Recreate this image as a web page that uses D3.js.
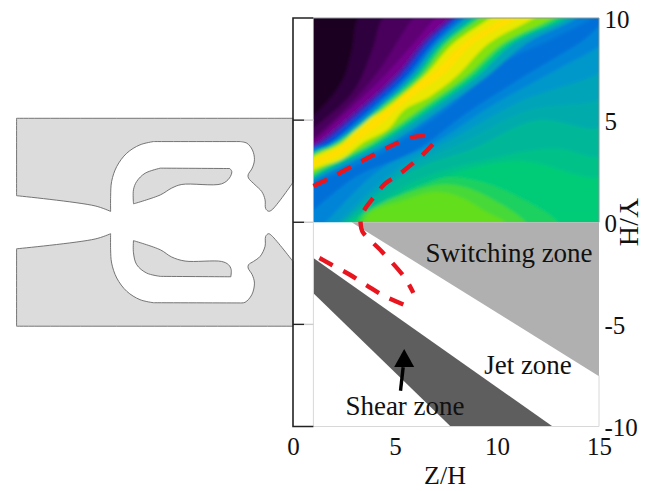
<!DOCTYPE html>
<html><head><meta charset="utf-8">
<script src="https://cdn.jsdelivr.net/npm/d3@7"></script>
<style>html,body{margin:0;padding:0;background:#fff}svg{display:block}text{font-family:"Liberation Serif",serif;fill:#111}</style>
</head><body><svg id="c" width="654" height="491"></svg>
<script>
const zTicks=[0,5,10,15], yTicks=[10,5,0,-5,-10], innerTicks=[5,0,-5];
// heat field read as iso-bands: [level, [[Z,Y],...]], painted lower-right to upper-left
const baseLevel=0.6;
const hills=[
 [.64,[[3.1,0],[3.6,.9],[5.5,1.55],[7.5,2.2],[9.5,1.9],[11.5,1.0],[13,0]]],
 [.70,[[3.3,0],[3.6,.6],[5,1.2],[7.2,1.85],[8.5,1.7],[10,1],[11.4,0]]],
 [.74,[[3.45,0],[3.8,.5],[5.5,1.1],[7,1.5],[8.3,1.2],[9.5,.5],[10.4,0]]]
];
const bands=[
 [.575,[[2.8,0],[6.5,1.9],[11,3.0],[15,2.2]]],
 [.55,[[2.7,0],[6.2,2.1],[9.66,3.1],[12.9,3.6],[15,3.2]]],
 [.52,[[2.5,0],[5.8,2.5],[8.8,3.6],[12,5],[15,4.6]]],
 [.50,[[2.4,0],[5.5,2.6],[8.4,3.95],[11.6,5.5],[15,6]]],
 [.47,[[2.2,0],[5.25,2.73],[8,4.2],[11.3,6],[15,7.3]]],
 [.43,[[1.6,0],[4.26,2.57],[6.9,3.87],[9.66,5.66],[12.9,7.46],[15,8.6]]],
 [.395,[[1,.6],[3.1,2.24],[6.06,3.55],[8.5,5.34],[11.3,7.13],[14.2,8.9],[15,9.6]]],
 [.42,[[1,1.9],[2.6,2.55],[4.3,3.35],[5.8,4.3],[7.9,5.8],[9.9,7.6],[12.55,8.9],[14.7,10]]],
 [.50,[[1,2.05],[4.75,3.87],[7.2,5.5],[9.5,7.13],[11.45,8.76],[13.9,10]]],
 [.60,[[1,2.2],[4.26,3.87],[6.7,5.5],[9,7.13],[10.8,8.76],[13.4,10]]],
 [.70,[[1,2.33],[3.95,3.87],[6.35,5.5],[8.65,7.13],[10.45,8.76],[12.95,10]]],
 [.78,[[1,2.43],[3.8,3.87],[6.15,5.5],[8.45,7.13],[10.25,8.76],[12.7,10]]],
 [.88,[[1,2.58],[2.4,3.1],[3.4,3.87],[4.65,4.55],[5.45,5.5],[6.7,6.15],[8,7.13],[9.6,8.76],[11.8,10]]],
 [.96,[[1,2.72],[2.2,3.25],[3.1,3.95],[4.3,4.8],[5.1,5.55],[6.2,6.4],[7.5,7.35],[8.85,8.76],[11,10]]],
 [.88,[[1,3.02],[1.9,3.45],[2.65,3.95],[3.8,4.95],[4.75,5.6],[5.8,6.65],[6.9,7.35],[8.35,8.76],[10.3,10]]],
 [.76,[[1,3.2],[2.39,3.87],[3.4,4.85],[4.43,5.5],[6.4,7.13],[7.86,8.76],[9.66,10]]],
 [.62,[[1,3.3],[2.22,3.87],[4.26,5.5],[6.23,7.13],[7.53,8.76],[9.17,10]]],
 [.50,[[1,3.4],[2.06,3.87],[4.13,5.5],[5.98,7.13],[7.29,8.76],[8.84,10]]],
 [.40,[[1,3.5],[1.9,3.87],[3.94,5.5],[5.74,7.13],[7.04,8.76],[8.43,10]]],
 [.33,[[1,3.6],[1.73,3.87],[3.69,5.5],[5.49,7.13],[6.8,8.76],[8.1,10]]],
 [.26,[[1,3.68],[1.6,3.98],[3.5,5.55],[5.3,7.2],[6.65,8.85],[7.95,10]]],
 [.20,[[1,3.78],[1.45,4.05],[3.3,5.6],[5.1,7.25],[6.4,8.85],[7.7,10]]],
 [.16,[[1,3.95],[2.8,5.55],[4.6,7.3],[6,8.85],[7,10]]],
 [.12,[[1,4.1],[3.1,6.1],[4.4,7.7],[5.4,9.3],[5.9,10]]],
 [.07,[[1,4.6],[2.95,6.4],[3.9,8.5],[4.4,10]]],
 [.03,[[1,5.2],[2.4,6.9],[2.9,8.5],[3.2,10]]]
];
const levelStops=[0,.12,.2,.33,.45,.6,.76,.9,1];
const levelColors=['#0c000e','#48005c','#76008e','#0048d8','#0090d8','#00cc78','#70e010','#ffe800','#ffd800'];
// zones below the axis
const switchingZone=[[2.87,0],[15,0],[15,-7.54]];
const shearZone=[[1,-1.75],[1,-3.47],[7.73,-10],[12.73,-10]];
const redUpper=[[1,1.78],[1.81,2.16],[3.12,2.86],[4.43,3.55],[5.08,3.87],[5.82,4.16],[6.55,4.23]];
const redLoop=[[6.85,3.82],[6.3,3.25],[5.16,2.32],[4.5,1.88],[4.02,1.29],[3.53,.66],[3.32,.2],[3.32,-.1],[3.4,-.45],[4.35,-1.43],[5.49,-2.73],[5.9,-3.46]];
const redLower=[[5.41,-4.03],[4.51,-3.63],[3.61,-3.09],[2.79,-2.57],[1.89,-2.08],[1,-1.59]];
const arrowTail=[5.27,-8.25], arrowTip=[5.45,-6.2];
// nozzle outlines in Z,Y (doubled points are corners)
const nozzleUpper=[[-13.55,5.09],[-13.55,5.09],[0,5.09],[0,5.09],[0,1.95],[0,1.95],[-1.04,.6],[-1.2,.54],[-1.34,.67],[-1.37,1.1],[-1.53,1.5],[-1.86,1.83],[-2.18,2.16],[-2.2,2.32],[-2.0,2.65],[-1.89,3.06],[-1.99,3.54],[-2.26,3.87],[-2.6,3.95],[-2.6,3.95],[-6.84,3.95],[-6.84,3.95],[-7.5,3.79],[-8.15,3.38],[-8.64,2.73],[-8.89,2],[-8.94,1.26],[-8.94,.53],[-8.94,.53],[-9.7,.8],[-13.55,1.3],[-13.55,1.3]];
const nozzleLower=[[-13.55,-5.09],[-13.55,-5.09],[0,-5.09],[0,-5.09],[0,-1.92],[0,-1.92],[-1.04,-.66],[-1.2,-.56],[-1.34,-.69],[-1.37,-1.18],[-1.61,-1.67],[-1.94,-1.92],[-2.18,-2.08],[-2.2,-2.24],[-2.0,-2.57],[-1.89,-2.98],[-2.02,-3.55],[-2.35,-3.92],[-2.6,-3.95],[-2.6,-3.95],[-6.84,-3.94],[-6.84,-3.94],[-7.5,-3.79],[-8.15,-3.38],[-8.64,-2.73],[-8.89,-2],[-8.94,-1.35],[-8.94,-.56],[-8.94,-.56],[-9.7,-.82],[-13.55,-1.3],[-13.55,-1.3]];
const islandUpper=[[-7.82,.93],[-7.82,.93],[-7.82,1.59],[-7.66,2],[-7.25,2.4],[-6.5,2.65],[-6.5,2.65],[-3.1,2.63],[-3.1,2.63],[-3.0,2.48],[-3.12,2.16],[-3.5,1.88],[-5.45,1.85],[-5.95,1.67],[-6.5,1.34],[-7.82,.9],[-7.82,.9]];
const islandLower=[[-7.82,-.9],[-7.82,-.9],[-7.82,-1.5],[-7.66,-2.08],[-7.17,-2.49],[-6.5,-2.65],[-6.5,-2.65],[-3.05,-2.67],[-3.05,-2.67],[-3.03,-2.32],[-3.16,-2.08],[-3.5,-1.92],[-5.29,-1.9],[-5.95,-1.7],[-6.5,-1.35],[-7.82,-.9],[-7.82,-.9]];
const labels=[["Switching zone",509,262],["Jet zone",528,374],["Shear zone",405,415]];

const svg=d3.select('#c');
const x=d3.scaleLinear().domain([0,15]).range([293,599]);
const y=d3.scaleLinear().domain([-10,10]).range([426.5,18]);
const color=d3.scaleLinear().domain(levelStops).range(levelColors);
const poly=d3.line().x(d=>x(d[0])).y(d=>y(d[1]));
const smooth=d3.line().x(d=>x(d[0])).y(d=>y(d[1])).curve(d3.curveCatmullRom.alpha(.5));
const closedSmooth=d3.line().x(d=>x(d[0])).y(d=>y(d[1])).curve(d3.curveCatmullRomClosed.alpha(.5));
const defs=svg.append('defs');
defs.append('clipPath').attr('id','heat').append('rect').attr('x',x(1)).attr('y',y(10)).attr('width',x(15)-x(1)).attr('height',y(0)-y(10));
defs.append('filter').attr('id','soft').attr('x','-10%').attr('y','-10%').attr('width','120%').attr('height','120%').append('feGaussianBlur').attr('stdDeviation',1.5);

// nozzle
[nozzleUpper,nozzleLower,islandUpper,islandLower].forEach(s=>{
  svg.append('path').attr('d',closedSmooth(s)).attr('fill','#dcdcdc').attr('stroke','#666').attr('stroke-width',.9);
});

// heat map
const heatG=svg.append('g').attr('clip-path','url(#heat)').append('g').attr('filter','url(#soft)');
heatG.append('rect').attr('x',x(-1)).attr('y',y(11)).attr('width',x(17)-x(-1)).attr('height',y(-1)-y(11)).attr('fill',color(baseLevel));
hills.forEach(([v,pts])=>{
  const p=[[pts[0][0]-.5,-1],...pts,[pts[pts.length-1][0]+.5,-1]];
  heatG.append('path').attr('d',smooth(p)+'Z').attr('fill',color(v));
});
bands.forEach(([v,pts])=>{
  const a=pts[0], b=pts[pts.length-1];
  const start=a[1]<=0?[[a[0]-1,-1]]:[[0,a[1]-.78]];
  const end=b[1]>=10?[[b[0]+1.3,11]]:[[16,b[1]+.8]];
  const line=[...start,...pts,...end];
  const tail=[[16,11],[-1,11],[-1,-1]];
  heatG.append('path').attr('d',smooth(line)+poly(tail).replace('M','L')+'Z').attr('fill',color(v));
});

// zones
svg.append('path').attr('d',poly(switchingZone)+'Z').attr('fill','#b0b0b0');
svg.append('path').attr('d',poly(shearZone)+'Z').attr('fill','#5e5e5e');

// frame
const frame=svg.append('g').attr('fill','none');
frame.append('path').attr('d',poly([[15,-7.5],[15,-10],[1,-10],[1,0]])).attr('stroke','#d8d8d8').attr('stroke-width',1);
frame.append('path').attr('d',poly([[1,10],[15,10],[15,0]])).attr('stroke','#8a9a9a').attr('stroke-width',1);
frame.append('path').attr('d',poly([[1,10],[1,0]])).attr('stroke','#bbb').attr('stroke-width',.6);
frame.append('path').attr('d',poly([[1,10],[0,10],[0,-10],[1,-10]])).attr('stroke','#222').attr('stroke-width',1.6);
innerTicks.forEach(t=>{
  frame.append('path').attr('d',poly([[0,t],[.55,t]])).attr('stroke','#222').attr('stroke-width',1.4);
  frame.append('path').attr('d',poly([[.55,t],[1,t]])).attr('stroke','#ccc').attr('stroke-width',1.4);
});

// red outline
[redUpper,redLoop,redLower].forEach(s=>{
  svg.append('path').attr('d',smooth(s)).attr('fill','none').attr('stroke','#e8141e').attr('stroke-width',4.4).attr('stroke-dasharray','15 12');
});

// arrow
svg.append('path').attr('d',poly([arrowTail,[arrowTip[0]-.05,arrowTip[1]-.9]])).attr('stroke','#000').attr('stroke-width',3.4).attr('fill','none');
const [tx,ty]=[x(arrowTip[0]),y(arrowTip[1])];
svg.append('path').attr('d',`M${tx},${ty}L${tx+10},${ty+18}L${tx-10},${ty+18}Z`).attr('fill','#000');

// labels
labels.forEach(([t,lx,ly])=>svg.append('text').attr('x',lx).attr('y',ly).attr('text-anchor','middle').attr('font-size',27).text(t));

// axes
const ax=svg.append('g').attr('transform','translate(0,447)').call(d3.axisBottom(x).tickValues(zTicks).tickSize(0).tickPadding(0).tickFormat(String));
const ay=svg.append('g').attr('transform','translate(604.5,1)').call(d3.axisRight(y).tickValues(yTicks).tickSize(0).tickPadding(0).tickFormat(String));
ax.select('.domain').remove(); ay.select('.domain').remove();
[ax,ay].forEach(g=>g.selectAll('text').attr('font-size',25).attr('font-family','"Liberation Serif",serif').attr('dy','0.33em').attr('fill','#111'));
svg.append('text').attr('x',445).attr('y',484).attr('text-anchor','middle').attr('font-size',26).text('Z/H');
svg.append('text').attr('transform','translate(620,222) rotate(90)').attr('text-anchor','middle').attr('font-size',28).text('Y/H');
</script></body></html>
